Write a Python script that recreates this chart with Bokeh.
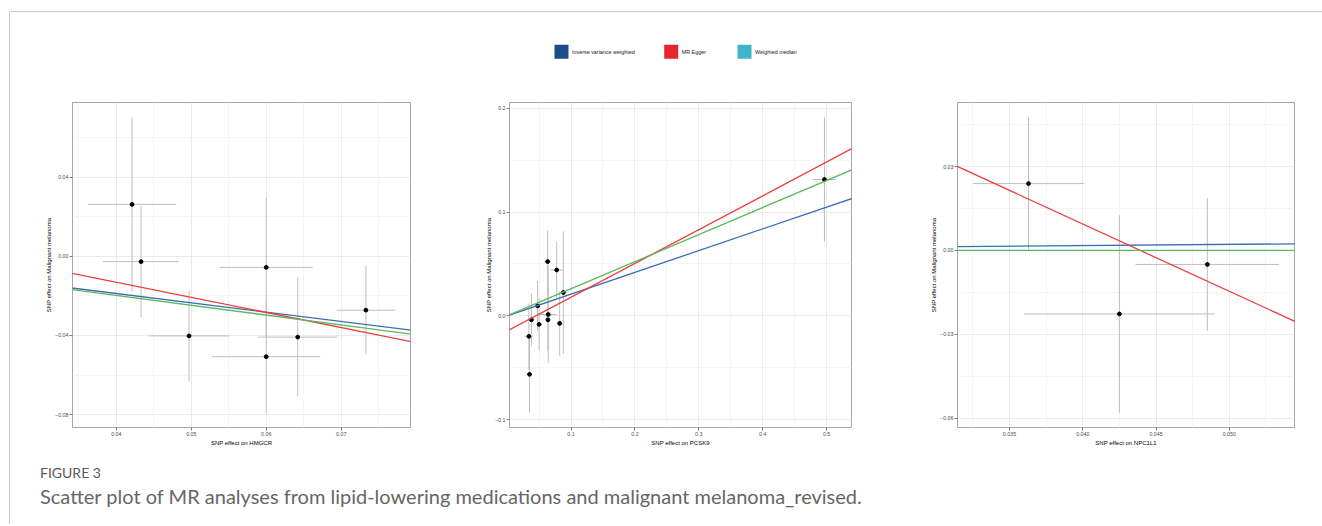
from bokeh.plotting import figure
from bokeh.models import (Range1d, FixedTicker, CustomJSTickFormatter, Slope, Span,
                          Spacer, ColumnDataSource)
from bokeh.layouts import row, column
from bokeh.core.properties import value
from bokeh.embed import file_html
from bokeh.resources import INLINE

# ---------------- data ----------------
legend_labels = ["Inverse variance weighted", "MR Egger", "Weighted median"]
legend_colors = ["#1d4c8c", "#e8262a", "#42b4c8"]
method_line_colors = ["#3b6db4", "#ef3b3b", "#5cb85c"]   # IVW, Egger, WM

# HMGCR
hm_x = [0.0421, 0.0433, 0.0497, 0.0600, 0.0600, 0.0642, 0.0733]
hm_y = [0.0262, -0.0027, -0.0402, -0.0056, -0.0507, -0.0408, -0.0272]
hm_xse = [0.0059, 0.0051, 0.0054, 0.0062, 0.0072, 0.0053, 0.0039]
hm_yse = [0.0440, 0.0280, 0.0229, 0.0353, 0.0283, 0.0300, 0.0223]
hm_ivw = -0.470
hm_wm = -0.495
hm_egger_slope, hm_egger_int = -0.763, 0.0174
hm_xticks = [0.04, 0.05, 0.06, 0.07]
hm_xtick_labels = ["0.04", "0.05", "0.06", "0.07"]
hm_xminor = [0.035, 0.045, 0.055, 0.065, 0.075]
hm_yticks = [-0.08, -0.04, 0.0, 0.04]
hm_ytick_labels = ["\u22120.08", "\u22120.04", "0.00", "0.04"]
hm_yminor = [-0.06, -0.02, 0.02, 0.06]

# PCSK9
pc_x = [0.034, 0.035, 0.038, 0.0476, 0.050, 0.0634, 0.0643, 0.0638, 0.0775, 0.0822, 0.088, 0.4967]
pc_y = [-0.0198, -0.0564, -0.0038, 0.0096, -0.0083, 0.0523, 0.0013, -0.0038, 0.0442, -0.0073, 0.0225, 0.1314]
pc_xse = [0.006, 0.004, 0.004, 0.004, 0.004, 0.005, 0.013, 0.004, 0.010, 0.004, 0.006, 0.018]
pc_yse = [0.032, 0.037, 0.025, 0.024, 0.025, 0.030, 0.047, 0.030, 0.027, 0.031, 0.059, 0.060]
pc_ivw = 0.2096
pc_wm = 0.261
pc_egger_slope, pc_egger_int = 0.3259, -0.0147
pc_xticks = [0.1, 0.2, 0.3, 0.4, 0.5]
pc_xtick_labels = ["0.1", "0.2", "0.3", "0.4", "0.5"]
pc_xminor = [0.05, 0.15, 0.25, 0.35, 0.45]
pc_yticks = [-0.1, 0.0, 0.1, 0.2]
pc_ytick_labels = ["\u22120.1", "0.0", "0.1", "0.2"]
pc_yminor = [-0.05, 0.05, 0.15]

# NPC1L1
np_x = [0.0363, 0.0425, 0.0485]
np_y = [0.0239, -0.0227, -0.0050]
np_xse = [0.0038, 0.0065, 0.0049]
np_yse = [0.0237, 0.0353, 0.0238]
np_ivw = 0.0435
np_wm = 0.0
np_egger_slope, np_egger_int = -2.404, 0.1056
np_xticks = [0.035, 0.040, 0.045, 0.050]
np_xtick_labels = ["0.035", "0.040", "0.045", "0.050"]
np_xminor = [0.0325, 0.0375, 0.0425, 0.0475, 0.0525]
np_yticks = [-0.06, -0.03, 0.0, 0.03]
np_ytick_labels = ["\u22120.06", "\u22120.03", "0.00", "0.03"]
np_yminor = [-0.045, -0.015, 0.015, 0.045]

y_title = "SNP effect on Malignant melanoma"
x_titles = ["SNP effect on HMGCR", "SNP effect on PCSK9", "SNP effect on NPC1L1"]
fig_label = "FIGURE 3"
caption = "Scatter plot of MR analyses from lipid-lowering medications and malignant melanoma_revised."

# ---------------- layout constants ----------------
W = 1312
PANEL_H = 360
FONT = "Liberation Sans"
FRAME_GRAY = "#c8c8c8"


def fmt(tick_values, tick_labels):
    return CustomJSTickFormatter(args=dict(tv=tick_values, tl=tick_labels), code="""
        for (let i = 0; i < tv.length; i++) {
            if (Math.abs(tv[i] - tick) < 1e-9) { return tl[i]; }
        }
        return '';
    """)


def expand(lo, hi, f=0.05):
    d = hi - lo
    return lo - f * d, hi + f * d


def panel(xs, ys, xse, yse, ivw, wm, eg_s, eg_i, xt, xtl, xmn, yt, ytl, ymn, xtitle,
          width, left, right):
    x0 = [a - b for a, b in zip(xs, xse)]
    x1 = [a + b for a, b in zip(xs, xse)]
    y0 = [a - b for a, b in zip(ys, yse)]
    y1 = [a + b for a, b in zip(ys, yse)]
    xr = expand(min(x0), max(x1))
    yr = expand(min(y0), max(y1))
    p = figure(width=width, height=PANEL_H, x_range=Range1d(*xr), y_range=Range1d(*yr),
               output_backend="svg", toolbar_location=None,
               min_border_left=left, min_border_right=right,
               min_border_top=10, min_border_bottom=25)
    src = ColumnDataSource(dict(x=xs, y=ys, x0=x0, x1=x1, y0=y0, y1=y1))
    p.segment(x0="x0", y0="y", x1="x1", y1="y", source=src, line_color="#bebebe", line_width=1)
    p.segment(x0="x", y0="y0", x1="x", y1="y1", source=src, line_color="#bebebe", line_width=1)
    p.scatter(x="x", y="y", source=src, size=3.8, color="black")
    for g, b, c in [(ivw, 0.0, method_line_colors[0]), (eg_s, eg_i, method_line_colors[1]),
                    (wm, 0.0, method_line_colors[2])]:
        p.add_layout(Slope(gradient=g, y_intercept=b, line_color=c, line_width=1.3))

    xtk = FixedTicker(ticks=xt, minor_ticks=xmn)
    ytk = FixedTicker(ticks=yt, minor_ticks=ymn)
    p.xaxis.ticker = xtk
    p.yaxis.ticker = ytk
    p.xgrid.ticker = xtk
    p.ygrid.ticker = ytk
    p.xaxis.formatter = fmt(xt, xtl)
    p.yaxis.formatter = fmt(yt, ytl)
    for g in (p.xgrid, p.ygrid):
        g.grid_line_color = "#ebebeb"
        g.minor_grid_line_color = "#f5f5f5"
        g.grid_line_width = 1
    for ax in (p.xaxis, p.yaxis):
        ax.axis_line_color = None
        ax.major_tick_line_color = "#7f7f7f"
        ax.major_tick_in = 0
        ax.major_tick_out = 3
        ax.minor_tick_line_color = None
        ax.major_label_text_font = FONT
        ax.major_label_text_font_size = "5.3px"
        ax.major_label_text_color = "#4d4d4d"
        ax.axis_label_text_font = FONT
        ax.axis_label_text_font_size = "6px"
        ax.axis_label_text_font_style = "normal"
        ax.axis_label_text_color = "#000000"
    p.xaxis.major_label_standoff = 0
    p.xaxis.axis_label_standoff = 1
    p.yaxis.major_label_standoff = 0
    p.yaxis.axis_label_standoff = 0
    p.xaxis.axis_label = xtitle
    p.yaxis.axis_label = y_title
    p.outline_line_color = "#a6a6a6"
    p.outline_line_width = 1
    p.background_fill_color = "white"
    p.border_fill_color = "white"
    return p


p1 = panel(hm_x, hm_y, hm_xse, hm_yse, hm_ivw, hm_wm, hm_egger_slope, hm_egger_int,
           hm_xticks, hm_xtick_labels, hm_xminor, hm_yticks, hm_ytick_labels, hm_yminor,
           x_titles[0], 430, 62, 30)
p2 = panel(pc_x, pc_y, pc_xse, pc_yse, pc_ivw, pc_wm, pc_egger_slope, pc_egger_int,
           pc_xticks, pc_xtick_labels, pc_xminor, pc_yticks, pc_ytick_labels, pc_yminor,
           x_titles[1], 441, 69, 30)
p3 = panel(np_x, np_y, np_xse, np_yse, np_ivw, np_wm, np_egger_slope, np_egger_int,
           np_xticks, np_xtick_labels, np_xminor, np_yticks, np_ytick_labels, np_yminor,
           x_titles[2], 441, 76, 28)


def blank(h):
    f = figure(width=W, height=h, x_range=Range1d(0, W), y_range=Range1d(h, 0),
               output_backend="svg", toolbar_location=None,
               min_border=0, min_border_left=0, min_border_right=0,
               min_border_top=0, min_border_bottom=0)
    f.axis.visible = False
    f.grid.visible = False
    f.outline_line_color = None
    f.background_fill_color = "white"
    f.border_fill_color = "white"
    return f


# header with legend
H_HEAD = 92
head = blank(H_HEAD)
head.add_layout(Span(location=11, dimension="width", line_color=FRAME_GRAY, line_width=1))
legend_cx = [551, 660.7, 734]
legend_cy = 51.3
head.rect(x=legend_cx, y=[legend_cy] * 3, width=14, height=14, fill_color=legend_colors,
          line_color=None)
head.text(x=[c + 10.5 for c in legend_cx], y=[legend_cy] * 3, text=legend_labels,
          text_font=value(FONT), text_font_size="5.4px", text_baseline="middle",
          text_align="left", text_color="#1a1a1a")

# caption
H_CAP = 72
cap = blank(H_CAP)
cap.text(x=[29.5], y=[19.7], text=[fig_label], text_font=value("Lato"),
         text_font_size="14px", text_baseline="middle", text_align="left",
         text_color="#5a5a5a")
cap.text(x=[29.5], y=[43], text=[caption], text_font=value("Lato"),
         text_font_size="20px", text_baseline="middle", text_align="left",
         text_color="#666666")

TOTAL_H = H_HEAD + PANEL_H + H_CAP
main = column(head, row(p1, p2, p3), cap)
vline = column(Spacer(width=1, height=11),
               Spacer(width=1, height=TOTAL_H - 11,
                      styles={"background-color": FRAME_GRAY}))
root = row(Spacer(width=9, height=TOTAL_H), vline, main)

open("out.html", "w").write(file_html(root, INLINE))
